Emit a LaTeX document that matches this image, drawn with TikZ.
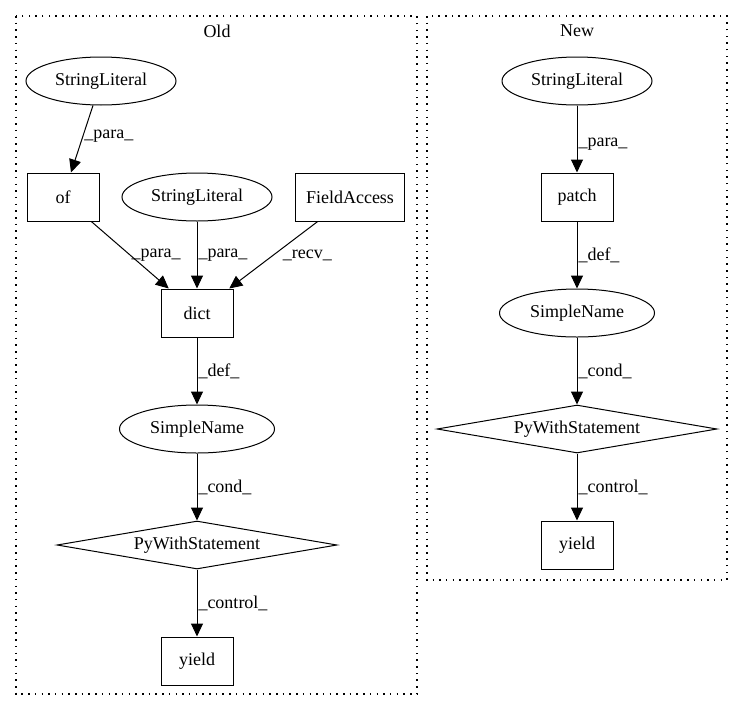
\documentclass[tikz,border=0pt]{standalone}
\usepackage{fontspec}
\setmainfont{Liberation Serif}
\usetikzlibrary{shapes.geometric,arrows.meta}

\begin{document}
\begin{tikzpicture}[x=1pt,y=-1pt,
  every node/.style={font=\fontsize{18}{21}\selectfont},
  box/.style={draw,line width=1pt,minimum width=72pt,minimum height=48pt,inner xsep=11pt},
  oval/.style={draw,line width=1pt,ellipse,minimum width=150pt,minimum height=48pt,inner sep=0pt},
  dia/.style={draw,line width=1pt,diamond,aspect=5.8,minimum width=280pt,minimum height=48pt,inner sep=0pt},
  cluster/.style={line width=1.3pt,dash pattern=on 1.5pt off 5.2pt},
  flow/.style={line width=1pt,-{Triangle[length=13pt,width=12pt]}},
  lab/.style={anchor=west,inner sep=1pt}]
  \useasboundingbox (0,0) rectangle (743,712);
  \draw[cluster] (16,16) rectangle (417,694);
  \draw[cluster] (427,16) rectangle (727,580);
  \node (oldtitle) at (217,31) {Old};
  \node (newtitle) at (577,31) {New};

  % Old
  \node[oval] (oldstr1) at (101,81) {StringLiteral};
  \node[box] (of) at (63,197) {of};
  \node[oval] (oldstr2) at (197,197) {StringLiteral};
  \node[box] (field) at (350,197) {FieldAccess};
  \node[box] (dict) at (197,313) {dict};
  \node[oval,minimum width=155pt] (oldname) at (197,429) {SimpleName};
  \node[dia] (oldwith) at (197,545) {PyWithStatement};
  \node[box] (oldyield) at (197,661) {yield};
  \draw[flow] (oldstr1) -- node[lab,pos=.46] {\_para\_} (of);
  \draw[flow] (of) -- node[lab,pos=.5] {\_para\_} (dict);
  \draw[flow] (oldstr2) -- node[lab,pos=.5] {\_para\_} (dict);
  \draw[flow] (field) -- node[lab,pos=.5,xshift=8pt] {\_recv\_} (dict);
  \draw[flow] (dict) -- node[lab] {\_def\_} (oldname);
  \draw[flow] (oldname) -- node[lab] {\_cond\_} (oldwith);
  \draw[flow] (oldwith) -- node[lab] {\_control\_} (oldyield);

  % New
  \node[oval] (newstr) at (577,81) {StringLiteral};
  \node[box] (patch) at (577,197) {patch};
  \node[oval,minimum width=155pt] (newname) at (577,313) {SimpleName};
  \node[dia] (newwith) at (577,429) {PyWithStatement};
  \node[box] (newyield) at (577,545) {yield};
  \draw[flow] (newstr) -- node[lab,pos=.58] {\_para\_} (patch);
  \draw[flow] (patch) -- node[lab] {\_def\_} (newname);
  \draw[flow] (newname) -- node[lab] {\_cond\_} (newwith);
  \draw[flow] (newwith) -- node[lab] {\_control\_} (newyield);
\end{tikzpicture}
\end{document}
